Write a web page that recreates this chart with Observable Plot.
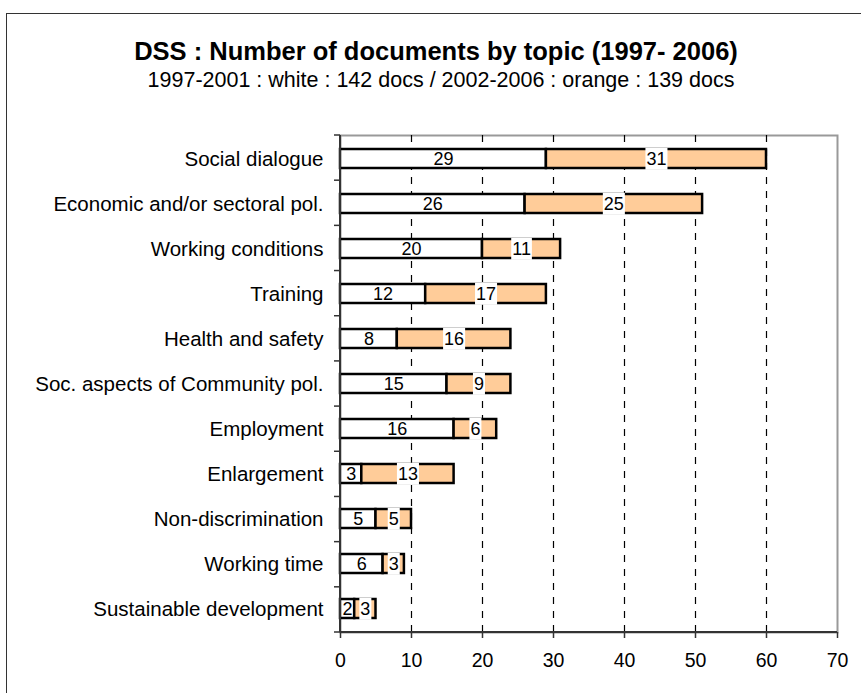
<!DOCTYPE html>
<html>
<head>
<meta charset="utf-8">
<script src="https://cdn.jsdelivr.net/npm/d3@7"></script>
<script src="https://cdn.jsdelivr.net/npm/@observablehq/plot@0.6"></script>
<style>
  body { margin: 0; background: #fff; font-family: "Liberation Sans", Arial, sans-serif; }
  #wrap { position: relative; width: 861px; height: 693px; overflow: hidden; background: #fff; }
  #frame { position: absolute; left: 6px; top: 13px; width: 920px; height: 760px; border: 1.5px solid #333; box-sizing: border-box; z-index: 10; pointer-events: none; }
  #head { position: relative; height: 100px; }
  .title { position: absolute; left: 0; width: 872px; text-align: center; line-height: 1; white-space: nowrap; color: #000; }
  #t1 { top: 39px; font-size: 25.5px; font-weight: bold; }
  #t2 { top: 70px; font-size: 21.5px; left: 5px; }
  #chart { position: relative; }
  #chart svg { display: block; }
</style>
</head>
<body>
<div id="wrap">
  <div id="frame"></div>
  <div id="head">
    <div class="title" id="t1">DSS : Number of documents by topic (1997- 2006)</div>
    <div class="title" id="t2">1997-2001 : white : 142 docs / 2002-2006 : orange : 139 docs</div>
  </div>
  <div id="chart"></div>
</div>
<script>
// Topics, top to bottom
const topics = [
  "Social dialogue",
  "Economic and/or sectoral pol.",
  "Working conditions",
  "Training",
  "Health and safety",
  "Soc. aspects of Community pol.",
  "Employment",
  "Enlargement",
  "Non-discrimination",
  "Working time",
  "Sustainable development"
];
// Documents 1997-2001 (white)
const docs1997 = [29, 26, 20, 12, 8, 15, 16, 3, 5, 6, 2];
// Documents 2002-2006 (orange)
const docs2002 = [31, 25, 11, 17, 16, 9, 6, 13, 5, 3, 3];
// x-axis ticks
const xTicks = [0, 10, 20, 30, 40, 50, 60, 70];
const gridTicks = [10, 20, 30, 40, 50, 60];

const rows = topics.map((topic, i) => ({
  topic,
  a: docs1997[i],
  b: docs2002[i]
}));

const FONT = '"Liberation Sans", Arial, sans-serif';
const LABEL_SIZE = 18;

// Axis decorations: left axis line with category separator ticks, and the bottom axis line
function axisDecor(index, scales, values, dims) {
  const {width, height, marginLeft, marginRight, marginTop, marginBottom} = dims;
  const g = d3.create("svg:g");
  const x0 = marginLeft;
  const y0 = marginTop, y1 = height - marginBottom;
  const step = (y1 - y0) / topics.length;
  const bounds = d3.range(topics.length + 1).map(i => y0 + i * step);
  g.selectAll("line.sep").data(bounds).join("line")
    .attr("x1", x0 - 6).attr("x2", x0)
    .attr("y1", d => d).attr("y2", d => d)
    .attr("stroke", "#333").attr("stroke-width", 1.5);
  g.append("line")
    .attr("x1", x0).attr("x2", x0).attr("y1", y0).attr("y2", y1)
    .attr("stroke", "#333").attr("stroke-width", 2);
  g.append("line")
    .attr("x1", x0).attr("x2", width - marginRight).attr("y1", y1).attr("y2", y1)
    .attr("stroke", "#333").attr("stroke-width", 2);
  return g.node();
}

const chart = Plot.plot({
  width: 861,
  height: 593,
  marginLeft: 340,
  marginRight: 24,
  marginTop: 35,
  marginBottom: 61,
  style: { fontFamily: FONT, fontSize: "20px", color: "#000", background: "transparent" },
  x: { domain: [0, 70], ticks: xTicks },
  y: { domain: topics, paddingInner: 0.58, paddingOuter: 0.29 },
  marks: [
    Plot.frame({ stroke: "#999", strokeWidth: 2 }),
    Plot.gridX(gridTicks, { stroke: "#000", strokeOpacity: 1, strokeDasharray: "7,7", strokeWidth: 1.2 }),
    Plot.axisX({ ticks: xTicks, tickSize: 6, tickPadding: 15, fontSize: 19.5, stroke: "#333", strokeWidth: 1.5, label: null }),
    Plot.axisY({ tickSize: 0, tickPadding: 17, fontSize: 20.5, label: null }),
    Plot.barX(rows, { y: "topic", x1: 0, x2: "a", fill: "#fff", stroke: "#000", strokeWidth: 2.5 }),
    Plot.barX(rows, { y: "topic", x1: "a", x2: d => d.a + d.b, fill: "#FFCC99", stroke: "#000", strokeWidth: 2.5 }),
    axisDecor,
    Plot.text(rows, { y: "topic", x: d => d.a / 2, text: d => String(d.a), fontSize: LABEL_SIZE, fill: "#000" }),
    // orange-series labels: drawn last
    Plot.text(rows, { y: "topic", x: d => d.a + d.b / 2, text: d => String(d.b), fontSize: LABEL_SIZE, fill: "#000" })
  ]
});

document.getElementById("chart").appendChild(chart);

// White boxes behind the orange series' value labels (the last mark group)
const markGroups = chart.querySelectorAll(":scope > g");
const orangeGroup = markGroups[markGroups.length - 1];
orangeGroup.querySelectorAll("text").forEach(t => {
  const bb = t.getBBox();
  const r = document.createElementNS("http://www.w3.org/2000/svg", "rect");
  r.setAttribute("x", bb.x - 1);
  r.setAttribute("y", bb.y - 1);
  r.setAttribute("width", bb.width + 2);
  r.setAttribute("height", bb.height + 2);
  r.setAttribute("fill", "#fff");
  // each label is placed by its own transform; the box shares it
  const tr = t.getAttribute("transform");
  if (tr) r.setAttribute("transform", tr);
  t.parentNode.insertBefore(r, t);
});
</script>
</body>
</html>
